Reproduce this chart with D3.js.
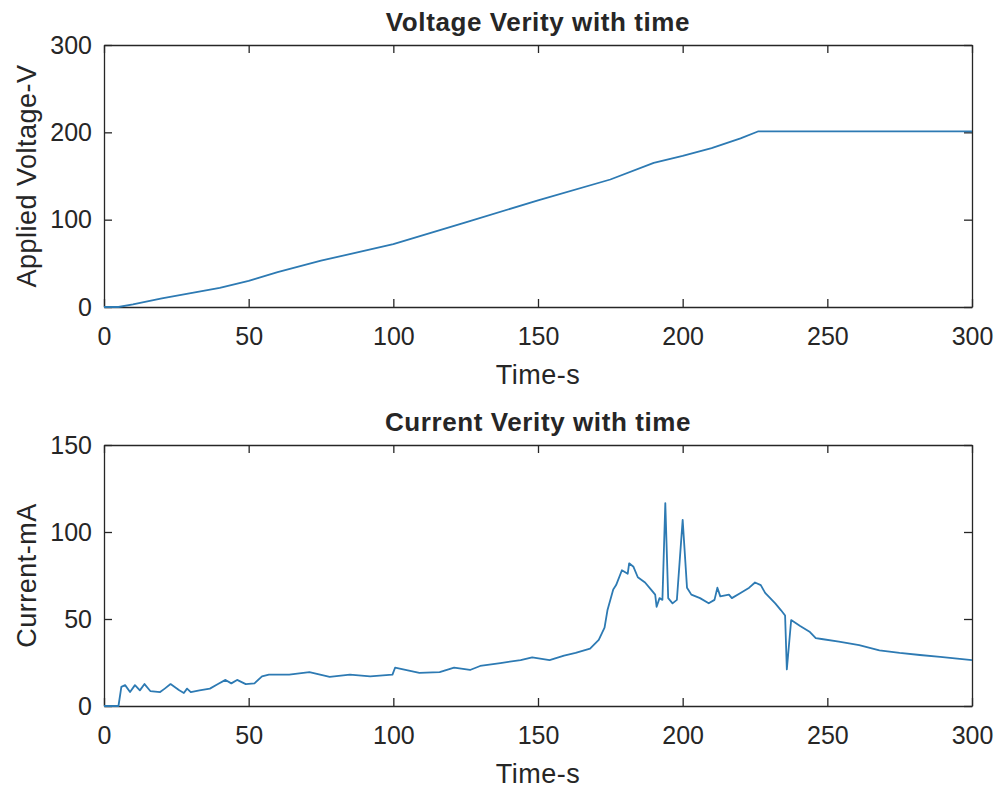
<!DOCTYPE html>
<html>
<head>
<meta charset="utf-8">
<script src="https://cdn.jsdelivr.net/npm/d3@7"></script>
<style>
  body { margin: 0; background: #fff; }
  text { font-family: "Liberation Sans", Arial, sans-serif; fill: #262626; }
  .title { font-weight: bold; font-size: 26px; letter-spacing: 0.6px; }
  .tick text { font-size: 25px; }
  .label { font-size: 27px; letter-spacing: 0.5px; }
  .line { fill: none; stroke: #2d7ab3; stroke-width: 1.8; stroke-linejoin: round; }
</style>
</head>
<body>
<div id="viz"></div>
<script>
// voltage readings (s, V)
const voltTime  = [0, 5, 10, 20, 30, 40, 50, 52, 60, 75, 100, 125, 150, 175, 190, 200, 210, 220, 226, 300];
const voltValue = [0, 0, 3, 10, 16, 22, 30, 32, 40, 53, 72, 97, 122, 146, 165, 173, 182, 193, 201, 201];

// current readings (s, mA)
const currTime  = [0, 5, 6, 7.3, 9, 10.7, 12.4, 14, 16, 19.4, 21, 23, 26, 27.6, 28.7, 30, 33, 36.6, 39.4, 42, 44, 46, 49, 52,
  54.6, 57, 64, 71, 78, 85, 92, 99.7, 100.6, 109, 116, 121, 126.5, 130, 137, 144, 148, 154, 159, 163, 168, 171,
  173, 174, 176, 177, 179, 181, 181.5, 183, 184.5, 187, 189, 190.5, 191, 192, 193, 194, 195, 196.5, 198, 200, 201.5,
  203, 206, 209, 211, 212, 213, 216, 217, 220, 223, 225, 227, 228.5, 232, 234, 235.4, 236, 237.5, 240.6, 244, 246,
  248, 254, 261, 268, 275, 282, 289, 300];
const currValue = [0, 0, 11, 12, 8, 12, 9, 12.6, 8.6, 8, 10, 12.6, 9, 7.5, 10, 8, 9, 10, 12.6, 15, 13, 15, 12.6, 13,
  17, 18, 18, 19.5, 16.7, 18, 17, 18, 22, 19, 19.5, 22, 20.7, 23, 24.7, 26.4, 28, 26.4, 29, 30.5, 33, 38,
  45, 55, 67, 69.5, 78, 76, 82, 80, 74, 71, 67, 64, 57, 62, 61, 116.6, 62, 59, 61, 107, 68,
  64, 62, 59, 61, 68, 63, 64, 62, 65, 68, 71, 69.5, 65, 59, 55, 52, 21, 49.4, 46, 42.5, 39,
  38.5, 37, 35, 32, 30.5, 29.3, 28.2, 26.4];

const xTicks = [0, 50, 100, 150, 200, 250, 300];
const voltTicks = [0, 100, 200, 300];
const currTicks = [0, 50, 100, 150];

const W = 997, H = 792;
const svg = d3.select("#viz").append("svg")
    .attr("width", W)
    .attr("height", H);

function subplot(cfg) {
    const x = d3.scaleLinear().domain([0, 300]).range([104, 972]);
    const y = d3.scaleLinear().domain(cfg.yDomain).range([cfg.bottom, cfg.top]);
    const g = svg.append("g");

    const tick = 8;
    // bottom axis (ticks inward), top mirror
    g.append("g")
        .attr("transform", `translate(0,${cfg.bottom})`)
        .call(d3.axisBottom(x).tickValues(xTicks).tickSizeInner(-tick).tickSizeOuter(0).tickPadding(tick + 12));
    g.append("g")
        .attr("transform", `translate(0,${cfg.top})`)
        .call(d3.axisTop(x).tickValues(xTicks).tickSizeInner(-tick).tickSizeOuter(0).tickFormat(""));
    g.append("g")
        .attr("transform", `translate(104,0)`)
        .call(d3.axisLeft(y).tickValues(cfg.yTicks).tickSizeInner(-tick).tickSizeOuter(0).tickPadding(tick + 4));
    g.append("g")
        .attr("transform", `translate(972,0)`)
        .call(d3.axisRight(y).tickValues(cfg.yTicks).tickSizeInner(-tick).tickSizeOuter(0).tickFormat(""));
    g.selectAll(".domain, .tick line").attr("stroke", "#262626").attr("stroke-width", 1.3);
    g.selectAll(".tick text").attr("fill", "#262626");

    g.append("path")
        .datum(d3.zip(cfg.t, cfg.v))
        .attr("class", "line")
        .attr("d", d3.line().x(d => x(d[0])).y(d => y(d[1])));

    g.append("text").attr("class", "title")
        .attr("x", 538).attr("y", cfg.top - 14)
        .attr("text-anchor", "middle").text(cfg.title);
    g.append("text").attr("class", "label")
        .attr("x", 538).attr("y", cfg.bottom + 77)
        .attr("text-anchor", "middle").text("Time-s");
    g.append("text").attr("class", "label")
        .attr("transform", `translate(36,${(cfg.top + cfg.bottom) / 2}) rotate(-90)`)
        .attr("text-anchor", "middle").text(cfg.ylabel);
}

subplot({ top: 45, bottom: 307, yDomain: [0, 300], yTicks: voltTicks,
    t: voltTime, v: voltValue, title: "Voltage Verity with time", ylabel: "Applied Voltage-V" });
subplot({ top: 445, bottom: 706, yDomain: [0, 150], yTicks: currTicks,
    t: currTime, v: currValue, title: "Current Verity with time", ylabel: "Current-mA" });
</script>
</body>
</html>
